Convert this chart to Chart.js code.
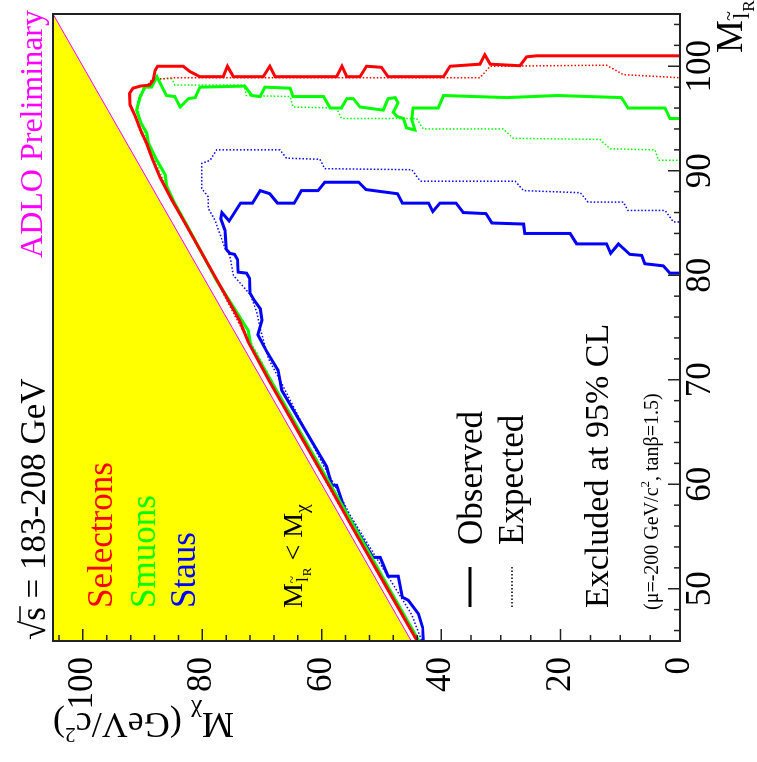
<!DOCTYPE html>
<html>
<head>
<meta charset="utf-8">
<script src="https://cdn.jsdelivr.net/npm/chart.js@4.4.1/dist/chart.umd.min.js"></script>
<style>
html, body { margin: 0; padding: 0; background: #fff; overflow: hidden; }
#wrap {
  position: absolute; left: 0; top: 0; width: 762px; height: 757px;
  transform-origin: 0 0; transform: translate(0px, 762px) rotate(-90deg);
}
</style>
</head>
<body>
<div id="wrap"><canvas id="excl" width="762" height="757"></canvas></div>
<script>
// slepton mass (x) vs neutralino mass (y), GeV/c^2
var xMajor = [50, 60, 70, 80, 90, 100];
var xMinor = [46, 48, 52, 54, 56, 58, 62, 64, 66, 68, 72, 74, 76, 78, 82, 84, 86, 88, 92, 94, 96, 98, 102, 104];
var yMajor = [0, 20, 40, 60, 80, 100];
var yMinor = [5, 10, 15, 25, 30, 35, 44, 48, 52, 56, 64, 68, 72, 76, 84, 88, 92, 96, 104];

// kinematic limit M_slepton = M_chi
var diagM = [45, 105];
var diagChi = [45, 105];

// selectrons
var selObsM = [45.0, 50, 55, 60, 65, 70, 73.6, 75.7, 80, 85, 87.2, 89.4, 91.3, 92.6, 93.7, 95.3, 96.3, 97.4, 97.9, 98.1, 98.2, 98.7, 99.6, 100.0, 100.0, 99.5, 99.0, 99.0, 100.0, 99.0, 99.0, 100.0, 99.0, 99.0, 100.0, 99.0, 99.0, 100.0, 99.9, 99.0, 99.0, 100.0, 100.2, 101.1, 100.2, 100.05, 100.9, 101.0, 101.0];
var selObsChi = [44.0, 49.0, 54.0, 58.9, 63.9, 68.9, 72.3, 73.8, 78.0, 82.9, 85.1, 87.1, 88.5, 89.3, 90.2, 91.3, 92.1, 92.2, 91.6, 90.4, 88.8, 88.2, 87.9, 87.5, 83.2, 82.1, 80.4, 76.5, 75.8, 74.8, 69.8, 68.7, 67.8, 57.5, 56.6, 55.8, 53.6, 52.5, 50.0, 48.9, 39.6, 38.5, 33.5, 32.7, 31.8, 26.8, 25.7, 24.0, 0];
var selExpM = [45.0, 55, 65, 75, 80, 85, 88, 90, 92, 94.2, 96.0, 97.6, 98.7, 98.9, 98.9, 100.0, 100.1, 99.2, 98.9];
var selExpChi = [44.1, 54.1, 64.0, 73.5, 78.1, 83.0, 85.8, 87.5, 89.0, 90.7, 90.9, 89.9, 88.5, 84.9, 33.5, 31.8, 12.3, 9.5, 0];

// smuons
var smuObsM = [45.0, 50, 55, 60, 65, 70, 73.3, 74.7, 79.5, 85, 87.2, 88.6, 89.6, 91.0, 92.6, 93.6, 94.5, 95.8, 97.1, 98.0, 98.0, 99.0, 97.2, 97.1, 96.1, 96.9, 97.0, 98.0, 98.1, 97.2, 97.1, 98.0, 97.9, 97.1, 97.1, 96.0, 96.0, 96.9, 96.9, 96.1, 95.8, 96.9, 97.0, 96.5, 95.6, 95.2, 95.0, 94.1, 93.9, 94.9, 96.0, 96.0, 97.2, 97.0, 97.2, 97.0, 96.0, 96.0, 95.0, 95.0];
var smuObsChi = [43.7, 48.7, 53.6, 58.6, 63.6, 68.6, 71.9, 72.3, 77.6, 82.8, 84.9, 86.0, 86.2, 87.6, 89.0, 89.3, 90.2, 91.0, 90.4, 89.6, 88.5, 87.6, 86.0, 84.6, 83.7, 82.3, 81.2, 80.4, 72.9, 71.7, 70.3, 69.5, 65.3, 64.8, 59.7, 58.6, 56.7, 55.8, 54.7, 53.6, 49.7, 48.9, 47.7, 47.2, 48.0, 47.4, 46.3, 45.8, 44.4, 44.9, 44.7, 40.5, 39.6, 29.0, 20.6, 9.8, 8.7, 2.5, 1.7, 0];
var smuExpM = [45.0, 55, 65, 75, 80, 85, 88, 90, 92, 93.5, 95, 96.5, 97.8, 98.8, 98.8, 98.2, 98.2, 97.2, 97.1, 96.1, 96.0, 95.0, 95.0, 94.0, 94.0, 93.1, 93.0, 92.1, 92.0, 91.0, 91.0];
var smuExpChi = [43.9, 53.8, 63.7, 73.2, 78.0, 82.8, 85.6, 87.2, 88.6, 89.6, 90.5, 90.9, 90.0, 87.6, 85.1, 84.6, 73.0, 72.6, 65.3, 64.8, 57.5, 56.7, 44.1, 43.0, 29.6, 27.9, 13.4, 11.7, 4.2, 3.6, 0];

// staus
var stauObsM = [45.07, 46.3, 47.6, 48.9, 49.2, 51.2, 51.2, 53.0, 53.0, 57.5, 59.9, 59.9, 61.7, 69.0, 70.9, 72.7, 74.3, 75.7, 76.8, 77.6, 78.3, 79.7, 80.2, 80.3, 81.5, 82.0, 82.1, 82.5, 84.3, 85.4, 86.0, 85.2, 86.9, 86.9, 88.1, 87.8, 86.9, 86.9, 88.1, 88.1, 88.9, 88.9, 88.2, 87.8, 86.9, 86.9, 86.1, 86.9, 86.9, 86.0, 85.9, 85.0, 84.9, 84.0, 84.0, 83.0, 83.0, 82.1, 83.0, 82.0, 81.9, 81.1, 80.9, 80.2, 80.2];
var stauObsChi = [43.0, 43.1, 43.8, 45.5, 46.5, 47.2, 48.9, 50.2, 51.4, 56.1, 57.5, 58.3, 59.2, 66.7, 67.3, 69.2, 70.7, 70.0, 70.3, 71.3, 72.0, 72.1, 72.6, 74.0, 74.1, 74.6, 75.4, 76.0, 76.2, 76.9, 76.7, 75.5, 73.6, 71.6, 70.3, 68.7, 67.4, 64.6, 63.4, 60.6, 59.5, 53.8, 52.6, 47.3, 46.5, 42.1, 41.4, 40.2, 37.5, 36.3, 32.5, 31.5, 26.2, 26.0, 18.4, 17.3, 12.3, 11.6, 10.3, 8.4, 6.4, 5.9, 2.8, 1.7, 0];
var stauExpM = [45.07, 47.5, 50.0, 53.0, 57.0, 60.0, 62.0, 69.3, 72.0, 74.9, 76.5, 78.1, 80.0, 81.9, 82.6, 85.3, 86.4, 87.5, 88.3, 90.7, 91.0, 92.0, 92.0, 91.2, 91.1, 90.2, 90.1, 89.0, 89.0, 88.1, 87.9, 87.0, 87.0, 86.2, 86.2, 85.1, 85.1];
var stauExpChi = [43.3, 44.9, 47.6, 50.9, 55.2, 57.9, 59.9, 66.4, 68.9, 70.3, 70.9, 71.9, 74.8, 75.4, 76.2, 77.9, 79.0, 79.0, 80.1, 80.1, 78.7, 77.6, 67.0, 65.9, 60.3, 59.5, 44.9, 43.5, 27.6, 26.2, 16.7, 15.4, 9.5, 8.7, 2.5, 1.1, 0];

var FONT = '"Liberation Serif", "Times New Roman", serif';

function pts(xs, ys) {
  return xs.map(function (x, i) { return { x: x, y: ys[i] }; });
}

function curve(xs, ys, color, dotted) {
  return {
    data: pts(xs, ys),
    showLine: true,
    fill: false,
    borderColor: color,
    borderWidth: dotted ? 1.5 : 3,
    borderDash: dotted ? [1.5, 2] : [],
    pointRadius: 0,
    tension: 0,
    order: dotted ? 2 : 1
  };
}

function txt(ctx, s, x, y, size, color, align) {
  ctx.font = size + 'px ' + FONT;
  ctx.fillStyle = color;
  ctx.textAlign = align || 'left';
  ctx.textBaseline = 'alphabetic';
  ctx.fillText(s, x, y);
  return ctx.measureText(s).width;
}

// M with a tilde-l_R subscript, returns width
function slepton(ctx, x, y, size, color) {
  var w = txt(ctx, 'M', x, y, size, color);
  var ss = size * 0.62;
  var lx = x + w + 1, ly = y + size * 0.2;
  var wl = txt(ctx, 'l', lx, ly, ss, color);
  txt(ctx, '~', lx + wl / 2, ly - ss * 0.62, ss * 0.8, color, 'center');
  var wr = txt(ctx, 'R', lx + wl + 1, ly + ss * 0.22, ss * 0.75, color);
  return w + wl + wr + 2;
}

// M with a chi subscript, returns width
function neutralino(ctx, x, y, size, color) {
  var w = txt(ctx, 'M', x, y, size, color);
  var wc = txt(ctx, '\u03c7', x + w, y + size * 0.22, size * 0.7, color);
  return w + wc;
}

var framePlugin = {
  id: 'frame',
  afterDatasetsDraw: function (chart) {
    var ctx = chart.ctx, a = chart.chartArea;
    var xs = chart.scales.x, ys = chart.scales.y;
    ctx.save();
    ctx.strokeStyle = '#222';
    ctx.lineWidth = 1.5;
    ctx.beginPath();
    xMajor.concat(xMinor).forEach(function (v) {
      var p = xs.getPixelForValue(v);
      var len = xMajor.indexOf(v) >= 0 ? 12 : 6;
      ctx.moveTo(p, a.bottom); ctx.lineTo(p, a.bottom - len);
    });
    yMajor.concat(yMinor).forEach(function (v) {
      var p = ys.getPixelForValue(v);
      var len = yMajor.indexOf(v) >= 0 ? 12 : 6;
      ctx.moveTo(a.left, p); ctx.lineTo(a.left + len, p);
    });
    ctx.stroke();
    ctx.lineWidth = 2;
    ctx.strokeRect(a.left, a.top, a.right - a.left, a.bottom - a.top);
    ctx.restore();
  }
};

var textPlugin = {
  id: 'labels',
  afterDraw: function (chart) {
    var ctx = chart.ctx, a = chart.chartArea;
    ctx.save();

    // axis titles
    slepton(ctx, 709, 742, 37, '#000');

    var ts = 36;
    ctx.save();
    var parts = ' (GeV/c';
    ctx.font = ts + 'px ' + FONT;
    var wM = ctx.measureText('M').width;
    var wP = ctx.measureText(parts).width;
    var wClose = ctx.measureText(')').width;
    ctx.font = (ts * 0.7) + 'px ' + FONT;
    var wChi = ctx.measureText('\u03c7').width;
    ctx.font = (ts * 0.6) + 'px ' + FONT;
    var w2 = ctx.measureText('2').width;
    var total = wM + wChi + wP + w2 + wClose;
    ctx.translate(49, a.top + total);
    ctx.rotate(-Math.PI / 2);
    var cx = neutralino(ctx, 0, 0, ts, '#000');
    cx += txt(ctx, parts, cx, 0, ts, '#000');
    cx += txt(ctx, '2', cx, -15, ts * 0.6, '#000');
    txt(ctx, ')', cx, 0, ts, '#000');
    ctx.restore();

    // header texts
    var w = txt(ctx, '\u221a', 122, 45, 35, '#000');
    var ws = txt(ctx, 's', 122 + w, 45, 35, '#000');
    ctx.strokeStyle = '#000';
    ctx.lineWidth = 1.5;
    ctx.beginPath();
    ctx.moveTo(122 + w - 1, 20); ctx.lineTo(122 + w + ws + 1, 20);
    ctx.stroke();
    txt(ctx, ' = 183-208 GeV', 122 + w + ws, 45, 35, '#000');
    txt(ctx, 'ADLO Preliminary', 752, 42, 32, '#ff00ff', 'right');

    // channel names
    txt(ctx, 'Selectrons', 154, 112, 35, '#ff0000');
    txt(ctx, 'Smuons', 154, 155, 35, '#00ff00');
    txt(ctx, 'Staus', 154, 195, 35, '#0000ff');

    var sw = slepton(ctx, 154, 302, 28, '#000');
    var lw = txt(ctx, ' < ', 154 + sw, 302, 28, '#000');
    neutralino(ctx, 154 + sw + lw, 302, 28, '#000');

    // line style key
    ctx.strokeStyle = '#000';
    ctx.lineWidth = 3;
    ctx.beginPath();
    ctx.moveTo(155, 470); ctx.lineTo(195, 470);
    ctx.stroke();
    ctx.lineWidth = 1.5;
    ctx.setLineDash([1.5, 2]);
    ctx.beginPath();
    ctx.moveTo(155, 512); ctx.lineTo(195, 512);
    ctx.stroke();
    ctx.setLineDash([]);
    txt(ctx, 'Observed', 217, 482, 35, '#000');
    txt(ctx, 'Expected', 217, 523, 35, '#000');

    txt(ctx, 'Excluded at 95% CL', 154, 608, 34, '#000');
    var pw = txt(ctx, '(\u03bc=-200 GeV/c', 152, 658, 20, '#000');
    var p2 = txt(ctx, '2', 152 + pw, 649, 13, '#000');
    txt(ctx, ', tan\u03b2=1.5)', 152 + pw + p2, 658, 20, '#000');

    ctx.restore();
  }
};

var tickFont = { family: FONT, size: 35 };

new Chart(document.getElementById('excl'), {
  type: 'scatter',
  data: {
    datasets: [
      {
        data: pts(diagM, diagChi),
        showLine: true,
        fill: 'end',
        backgroundColor: '#ffff00',
        borderColor: '#ff00ff',
        borderWidth: 1,
        pointRadius: 0,
        order: 10
      },
      curve(selExpM, selExpChi, '#ff0000', true),
      curve(smuExpM, smuExpChi, '#00ff00', true),
      curve(stauExpM, stauExpChi, '#0000ff', true),
      curve(selObsM, selObsChi, '#ff0000', false),
      curve(smuObsM, smuObsChi, '#00ff00', false),
      curve(stauObsM, stauObsChi, '#0000ff', false)
    ]
  },
  options: {
    responsive: false,
    animation: false,
    devicePixelRatio: 1,
    layout: { padding: { left: 0, right: 14, top: 53, bottom: 0 } },
    plugins: { legend: { display: false }, tooltip: { enabled: false } },
    scales: {
      x: {
        type: 'linear', min: 45, max: 105, position: 'bottom',
        grid: { display: false, drawTicks: false }, border: { display: false },
        afterBuildTicks: function (s) { s.ticks = xMajor.map(function (v) { return { value: v }; }); },
        ticks: { font: tickFont, color: '#000', padding: 0, maxRotation: 0, autoSkip: false },
        afterFit: function (s) { s.height = 77; }
      },
      y: {
        type: 'linear', min: 0, max: 105, position: 'left',
        grid: { display: false, drawTicks: false }, border: { display: false },
        afterBuildTicks: function (s) { s.ticks = yMajor.map(function (v) { return { value: v }; }); },
        ticks: { font: tickFont, color: '#000', padding: 16, autoSkip: false },
        afterFit: function (s) { s.width = 121; }
      }
    }
  },
  plugins: [framePlugin, textPlugin]
});
</script>
</body>
</html>
